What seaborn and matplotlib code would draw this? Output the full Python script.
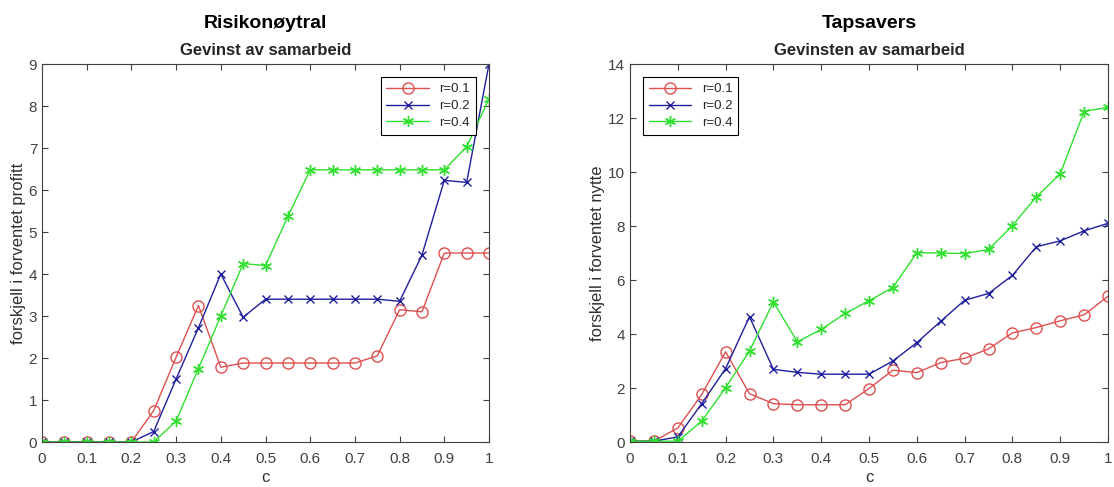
import matplotlib
matplotlib.use('Agg')
import matplotlib.pyplot as plt
import matplotlib.ticker as mticker
import seaborn as sns
import pandas as pd
import numpy as np

# c-values (0, 0.05, ..., 1)
c = [0.0, 0.05, 0.1, 0.15, 0.2, 0.25, 0.3, 0.35, 0.4, 0.45, 0.5,
     0.55, 0.6, 0.65, 0.7, 0.75, 0.8, 0.85, 0.9, 0.95, 1.0]

# Risikonøytral - forskjell i forventet profitt
rn_r01 = [0, 0, 0, 0, 0, 0.75, 2.02, 3.25, 1.78, 1.88, 1.88,
          1.88, 1.88, 1.88, 1.88, 2.05, 3.15, 3.1, 4.5, 4.5, 4.5]
rn_r02 = [0, 0, 0, 0, 0, 0.25, 1.5, 2.72, 4.0, 2.97, 3.4,
          3.4, 3.4, 3.4, 3.4, 3.4, 3.35, 4.45, 6.23, 6.18, 9.0]
rn_r04 = [0, 0, 0, 0, 0, 0, 0.5, 1.75, 3.0, 4.25, 4.2,
          5.37, 6.48, 6.48, 6.48, 6.48, 6.48, 6.48, 6.48, 7.03, 8.17]

# Tapsavers - forskjell i forventet nytte
ta_r01 = [0.03, 0.03, 0.52, 1.76, 3.34, 1.79, 1.42, 1.38, 1.38, 1.38, 1.98,
          2.66, 2.57, 2.94, 3.1, 3.45, 4.04, 4.24, 4.49, 4.71, 5.4]
ta_r02 = [0.03, 0.03, 0.19, 1.42, 2.72, 4.64, 2.69, 2.58, 2.51, 2.51, 2.51,
          3.0, 3.68, 4.47, 5.25, 5.5, 6.17, 7.23, 7.45, 7.82, 8.1]
ta_r04 = [0.03, 0.03, 0.03, 0.77, 2.01, 3.37, 5.19, 3.71, 4.17, 4.76, 5.23,
          5.72, 7.01, 7.0, 6.98, 7.13, 8.01, 9.08, 9.93, 12.24, 12.4]

labels = ['r=0.1', 'r=0.2', 'r=0.4']
colors = ['#de5050', '#1f1f9c', '#2fe02f']
markers = ['o', 'x', (6, 2, 0)]
msizes = [8, 6, 8]

sns.set_style('ticks')
plt.rcParams['font.family'] = ['Liberation Sans', 'DejaVu Sans']
plt.rcParams['xtick.direction'] = 'in'
plt.rcParams['ytick.direction'] = 'in'
plt.rcParams['xtick.top'] = True
plt.rcParams['ytick.right'] = True

fig = plt.figure(figsize=(11.14, 4.87), dpi=100)
ax1 = fig.add_axes([42 / 1114, 45 / 487, 447 / 1114, 378 / 487])
ax2 = fig.add_axes([630 / 1114, 45 / 487, 478 / 1114, 378 / 487])


def draw(ax, series, title, subtitle, ylabel, ymax, ystep, legend_loc):
    for y, lab, col, mk, ms in zip(series, labels, colors, markers, msizes):
        df = pd.DataFrame({'c': c, 'y': y})
        sns.lineplot(data=df, x='c', y='y', ax=ax, color=col, marker=mk,
                     markersize=ms, markerfacecolor='none', markeredgecolor=col,
                     markeredgewidth=1.0, linewidth=1.0, label=lab)
    ax.set_xlim(0, 1)
    ax.set_ylim(0, ymax)
    ax.xaxis.set_major_locator(mticker.MultipleLocator(0.1))
    ax.yaxis.set_major_locator(mticker.MultipleLocator(ystep))
    ax.xaxis.set_major_formatter(mticker.FormatStrFormatter('%g'))
    ax.yaxis.set_major_formatter(mticker.FormatStrFormatter('%g'))
    ax.tick_params(labelsize=11, colors='#404040', length=4, width=0.8)
    ax.tick_params(axis='x', pad=7)
    for s in ax.spines.values():
        s.set_color('#404040')
        s.set_linewidth(0.8)
    ax.set_xlabel('c', fontsize=12, color='#303030', labelpad=3)
    ax.set_ylabel(ylabel, fontsize=12, color='#303030', labelpad=2)
    ax.text(0.5, 1 + 14 / 378, subtitle, transform=ax.transAxes, ha='center',
            va='center', fontsize=12, fontweight='bold', color='#262626')
    ax.text(0.5, 1 + 41 / 378, title, transform=ax.transAxes, ha='center',
            va='center', fontsize=14, fontweight='bold', color='black')
    leg = ax.legend(loc=legend_loc, fontsize=9.5, frameon=True, fancybox=False,
                    edgecolor='black', framealpha=1, handlelength=3.2,
                    borderpad=0.45, labelspacing=0.35, borderaxespad=1.0)
    leg.get_frame().set_linewidth(0.8)


draw(ax1, [rn_r01, rn_r02, rn_r04], 'Risikonøytral', 'Gevinst av samarbeid',
     'forskjell i forventet profitt', 9, 1, 'upper right')
draw(ax2, [ta_r01, ta_r02, ta_r04], 'Tapsavers', 'Gevinsten av samarbeid',
     'forskjell i forventet nytte', 14, 2, 'upper left')

fig.savefig('out.png', dpi=100)
